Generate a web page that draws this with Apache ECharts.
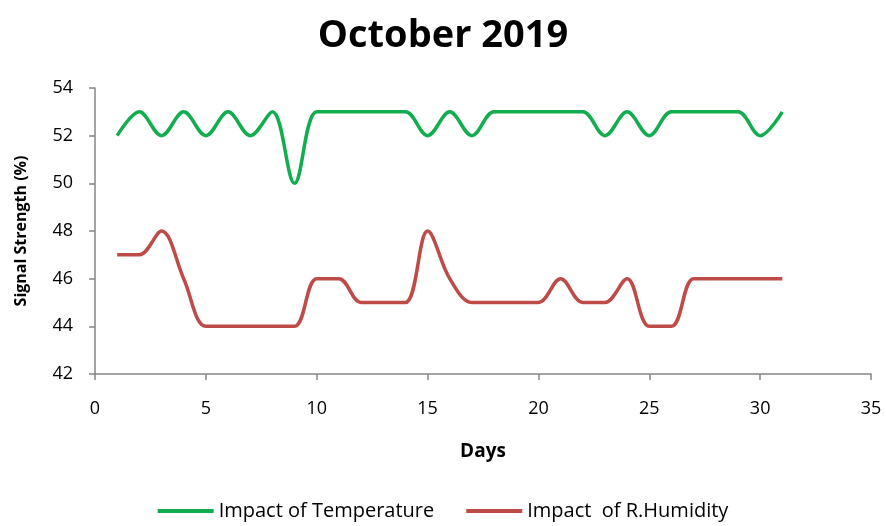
<!DOCTYPE html>
<html>
<head>
<meta charset="utf-8">
<script src="https://cdn.jsdelivr.net/npm/echarts@6/dist/echarts.min.js"></script>
<style>html,body{margin:0;padding:0;background:#fff}#chart{width:886px;height:526px}</style>
</head>
<body>
<div id="chart"></div>
<script>
// 数据
const days = [1,2,3,4,5,6,7,8,9,10,11,12,13,14,15,16,17,18,19,20,21,22,23,24,25,26,27,28,29,30,31];
const tempImpact = [52,53,52,53,52,53,52,53,50,53,53,53,53,53,52,53,52,53,53,53,53,53,52,53,52,53,53,53,53,52,53];
const humidityImpact = [47,47,48,46,44,44,44,44,44,46,46,45,45,45,48,46,45,45,45,45,46,45,45,46,44,44,46,46,46,46,46];
const yTicks = [42,44,46,48,50,52,54];

const chart = echarts.init(document.getElementById('chart'));
const FONT = 'Open Sans';
const pair = arr => days.map((d, i) => [d, arr[i]]);

chart.setOption({
    animation: false,
    backgroundColor: '#fff',
    title: { text: 'October 2019', left: 'center', top: 12,
        textStyle: { fontFamily: FONT, fontWeight: 'bold', fontSize: 38, color: '#000' } },
    grid: { left: 95, right: 15, top: 88, bottom: 152 },
    legend: { bottom: 0, left: 'center', itemWidth: 56, itemHeight: 4, itemGap: 32, icon: 'rect',
        textStyle: { fontFamily: FONT, fontSize: 20, color: '#000' },
        data: ['Impact of Temperature', 'Impact  of R.Humidity'] },
    xAxis: { type: 'value', min: 0, max: 35, interval: 5,
        name: 'Days', nameLocation: 'middle', nameGap: 68,
        nameTextStyle: { fontFamily: FONT, fontWeight: 'bold', fontSize: 19, color: '#000' },
        axisLine: { show: true, onZero: false, lineStyle: { color: '#868686', width: 1.5 } },
        axisTick: { show: true, length: 6, lineStyle: { color: '#868686', width: 1.5 } },
        axisLabel: { fontFamily: FONT, fontSize: 18, color: '#000', margin: 26 },
        splitLine: { show: false } },
    yAxis: { type: 'value', min: yTicks[0], max: yTicks[yTicks.length - 1], interval: 2,
        name: 'Signal Strength (%)', nameLocation: 'middle', nameGap: 66, nameRotate: 90,
        nameTextStyle: { fontFamily: FONT, fontWeight: 'bold', fontSize: 16, color: '#000' },
        axisLine: { show: true, onZero: false, lineStyle: { color: '#868686', width: 1.5 } },
        axisTick: { show: true, length: 6, lineStyle: { color: '#868686', width: 1.5 } },
        axisLabel: { fontFamily: FONT, fontSize: 18, color: '#000', margin: 22 },
        splitLine: { show: false } },
    series: [
        { name: 'Impact of Temperature', type: 'line', data: pair(tempImpact), smooth: 0.35,
          symbol: 'none', color: '#12AD4F', lineStyle: { width: 3.5, color: '#12AD4F' } },
        { name: 'Impact  of R.Humidity', type: 'line', data: pair(humidityImpact), smooth: 0.35,
          symbol: 'none', color: '#BE4B48', lineStyle: { width: 3.5, color: '#BE4B48' } }
    ]
});
</script>
</body>
</html>
